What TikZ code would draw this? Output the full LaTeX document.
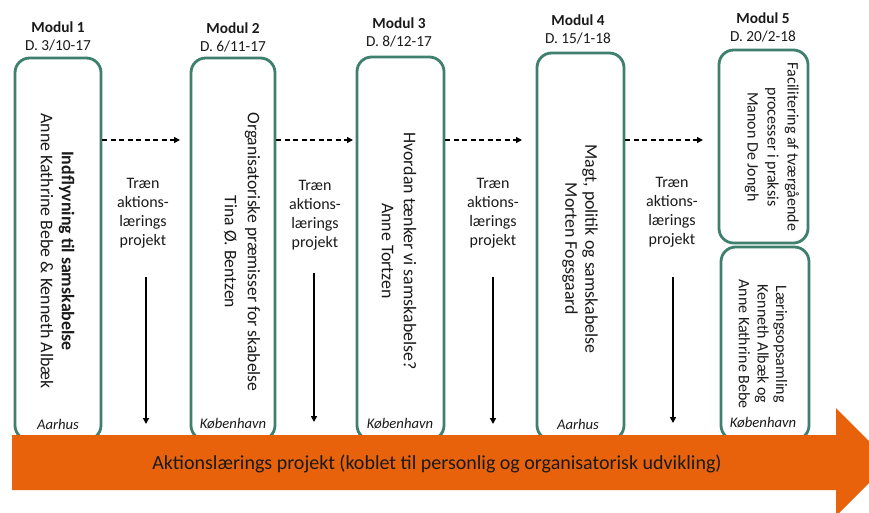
\documentclass[tikz,border=0pt]{standalone}
\usepackage{fontspec}
\setmainfont{Carlito}
\usetikzlibrary{arrows.meta,calc}
\definecolor{boxgreen}{HTML}{3E7F6E}
\definecolor{orng}{HTML}{E8620C}
\definecolor{txt}{HTML}{1A1A1A}
\tikzset{
  modbox/.style={draw=boxgreen, line width=2.1pt, rounded corners=11pt, fill=white, inner sep=0pt},
  boxtext/.style={rotate=-90, align=center, text=txt, inner sep=0pt},
  head/.style={align=center, text=txt, inner sep=0pt, font=\fontsize{11.5}{13.5}\selectfont},
  gaptext/.style={align=center, text=txt, inner sep=0pt, font=\fontsize{12}{14.25}\selectfont},
  loc/.style={text=txt, inner sep=0pt, font=\fontsize{11}{13}\selectfont\itshape},
  dasharr/.style={draw=black, line width=1pt, dash pattern=on 3.75pt off 2.6pt, -{Triangle[length=4.5pt,width=4.5pt]}},
  downarr/.style={draw=black, line width=1.3pt, -{Triangle[length=4.5pt,width=4.5pt]}},
}
\begin{document}
\begin{tikzpicture}[x=0.75pt,y=-0.75pt]
\useasboundingbox (0,0) rectangle (869,512);
\clip (0,0) rectangle (869,512);
% headings
\node[head] (h1) at (58,36) {\textbf{Modul 1}\\D. 3/10-17};
\node[head] (h2) at (233,37) {\textbf{Modul 2}\\D. 6/11-17};
\node[head] (h3) at (399,32.5) {\textbf{Modul 3}\\D. 8/12-17};
\node[head] (h4) at (578,29) {\textbf{Modul 4}\\D. 15/1-18};
\node[head] (h5) at (763,27.5) {\textbf{Modul 5}\\D. 20/2-18};
% boxes
\node[modbox, minimum width=86*0.75pt, minimum height=382*0.75pt] (b1) at (58,249) {};
\node[modbox, minimum width=84*0.75pt, minimum height=382*0.75pt] (b2) at (233,249) {};
\node[modbox, minimum width=87*0.75pt, minimum height=383*0.75pt] (b3) at (400.5,248.5) {};
\node[modbox, minimum width=87*0.75pt, minimum height=387*0.75pt] (b4) at (580.5,246.5) {};
\node[modbox, minimum width=89*0.75pt, minimum height=193*0.75pt] (b5a) at (763.5,146.5) {};
\node[modbox, minimum width=88*0.75pt, minimum height=193*0.75pt] (b5b) at (765,343.5) {};
% box texts
\node[boxtext, font=\fontsize{13.4}{15.75}\selectfont] (t1) at (57.5,251) {\textbf{Indflyvning til samskabelse}\\Anne Kathrine Bebe \& Kenneth Albæk};
\node[boxtext, font=\fontsize{13.2}{17.25}\selectfont] (t2) at (242,252) {Organisatoriske præmisser for skabelse\\Tina Ø. Bentzen};
\node[boxtext, font=\fontsize{13.4}{16.5}\selectfont] (t3) at (399,251) {Hvordan tænker vi samskabelse?\\Anne Tortzen};
\node[boxtext, font=\fontsize{13.4}{15}\selectfont] (t4) at (580,249) {Magt, politik og samskabelse\\Morten Fogsgaard};
\node[boxtext, font=\fontsize{12}{15}\selectfont] (t5a) at (772,147) {Facilitering af tværgående\\processer i praksis\\Manon De Jongh};
\node[boxtext, font=\fontsize{12}{14}\selectfont] (t5b) at (763,344) {Læringsopsamling\\Kenneth Albæk og\\Anne Kathrine Bebe};
% locations
\node[loc] (l1) at (58,424) {Aarhus};
\node[loc] (l2) at (233,424) {København};
\node[loc] (l3) at (400,424) {København};
\node[loc] (l4) at (578,424) {Aarhus};
\node[loc] (l5) at (763,423) {København};
% gap texts
\node[gaptext] (g1) at (143,213) {Træn\\aktions-\\lærings\\projekt};
\node[gaptext] (g2) at (315,215) {Træn\\aktions-\\lærings\\projekt};
\node[gaptext] (g3) at (493,213) {Træn\\aktions-\\lærings\\projekt};
\node[gaptext] (g4) at (672,212) {Træn\\aktions-\\lærings\\projekt};
% dashed arrows
\coordinate (e1) at (180,140);
\coordinate (e2) at (353,140);
\coordinate (e3) at (522,140);
\coordinate (e4) at (703,140);
\draw[dasharr] (b1.east |- e1) -- (e1);
\draw[dasharr] (b2.east |- e2) -- (e2);
\draw[dasharr] (b3.east |- e3) -- (e3);
\draw[dasharr] (b4.east |- e4) -- (e4);
% down arrows
\coordinate (s1) at (146,277); \coordinate (d1) at (146,424);
\coordinate (s2) at (314,273); \coordinate (d2) at (314,422);
\coordinate (s3) at (493,277); \coordinate (d3) at (493,424);
\coordinate (s4) at (673,277); \coordinate (d4) at (673,423);
\draw[downarr] (s1) -- (d1);
\draw[downarr] (s2) -- (d2);
\draw[downarr] (s3) -- (d3);
\draw[downarr] (s4) -- (d4);
% big orange arrow
\fill[orng] (12,435) -- (836,435) -- (836,408) -- (890,462) -- (836,516) -- (836,490) -- (12,490) -- cycle;
\node[text=txt, inner sep=0pt, font=\fontsize{15}{18}\selectfont] (lbl) at (437,464) {Aktionslærings projekt (koblet til personlig og organisatorisk udvikling)};
\end{tikzpicture}
\end{document}
